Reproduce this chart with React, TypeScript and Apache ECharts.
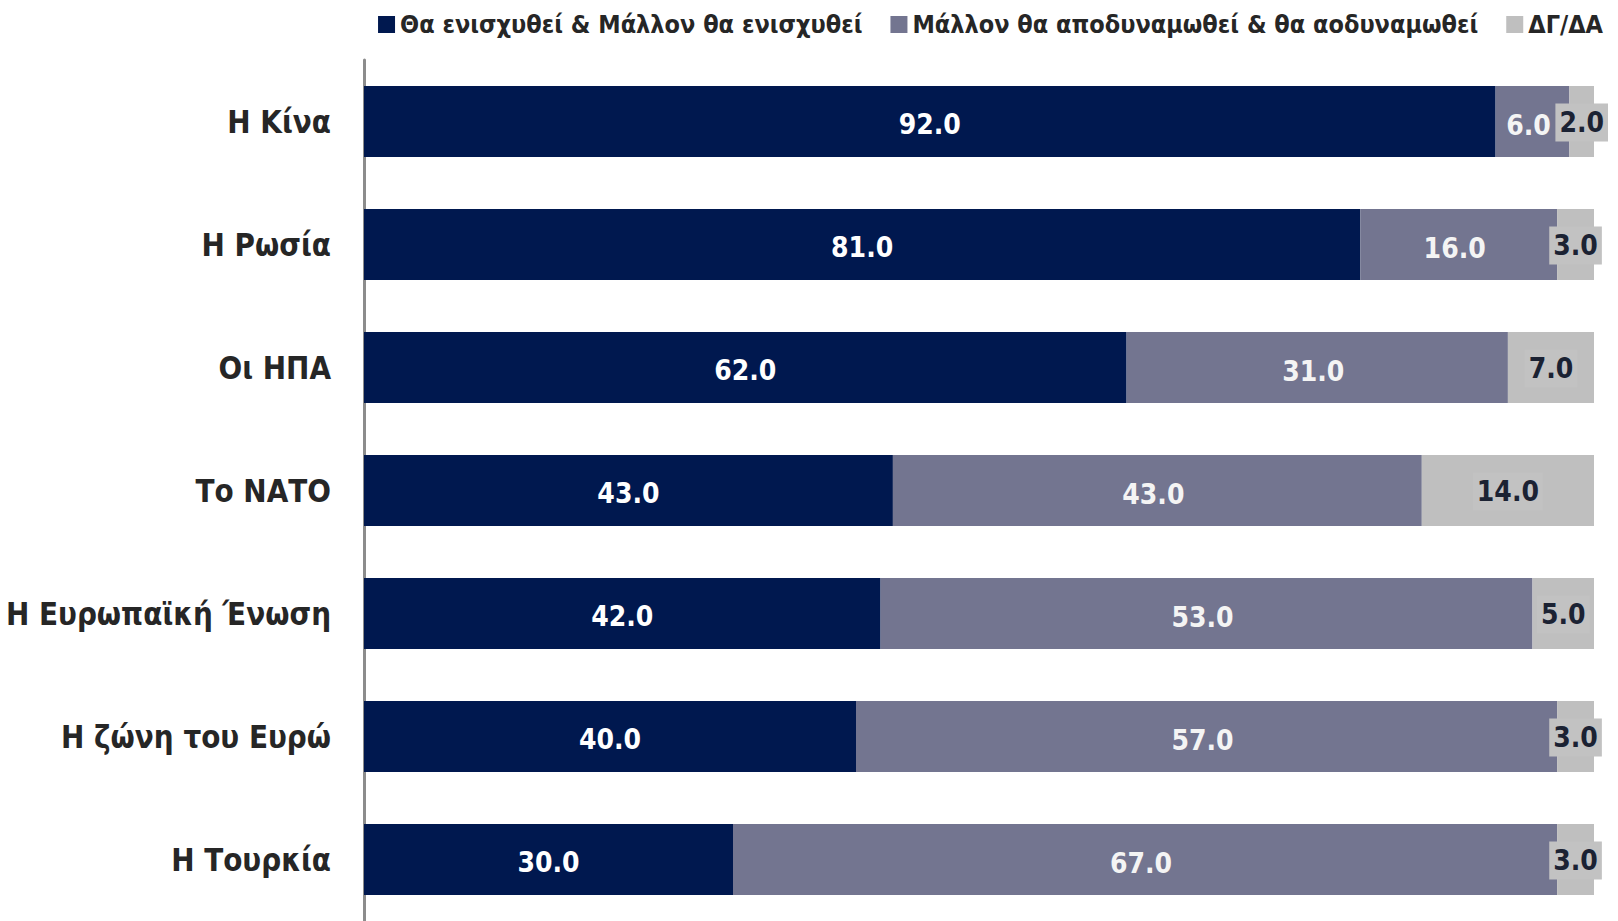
import React, { useEffect, useRef } from "react";
import * as echarts from "echarts";

const categories = [
  "Η Κίνα",
  "Η Ρωσία",
  "Οι ΗΠΑ",
  "Το ΝΑΤΟ",
  "Η Ευρωπαϊκή Ένωση",
  "Η ζώνη του Ευρώ",
  "Η Τουρκία",
];
const seriesNames = [
  "Θα ενισχυθεί & Μάλλον θα ενισχυθεί",
  "Μάλλον θα αποδυναμωθεί & θα αοδυναμωθεί",
  "ΔΓ/ΔΑ",
];
const strengthen = [92, 81, 62, 43, 42, 40, 30];
const weaken = [6, 16, 31, 43, 53, 57, 67];
const dontKnow = [2, 3, 7, 14, 5, 3, 3];

const FONT = "'Liberation Sans Narrow', 'DejaVu Sans Condensed', 'Roboto', sans-serif";

export default function App() {
  const ref = useRef<HTMLDivElement>(null);
  useEffect(() => {
    if (!ref.current) return;
    const chart = echarts.init(ref.current, null, { renderer: "svg" });
    const fmt = (p: any) => Number(p.value).toFixed(1);
    chart.setOption({
      animation: false,
      backgroundColor: "#ffffff",
      textStyle: { fontFamily: FONT },
      legend: {
        top: 7,
        right: 10,
        itemWidth: 17,
        itemHeight: 17,
        itemGap: 28,
        icon: "rect",
        textStyle: { fontFamily: FONT, fontSize: 25, fontWeight: "bold", color: "#262626" },
        data: seriesNames,
      },
      grid: { left: 364, right: 24, top: 60, bottom: -7, containLabel: false },
      xAxis: { type: "value", min: 0, max: 100, show: false },
      yAxis: {
        type: "category",
        data: categories,
        inverse: true,
        axisLine: { show: true, lineStyle: { color: "#8c8c8c", width: 3 } },
        axisTick: { show: false },
        axisLabel: {
          margin: 33,
          fontFamily: FONT,
          fontSize: 31,
          fontWeight: "bold",
          color: "#262626",
        },
      },
      series: [
        {
          name: seriesNames[0],
          type: "bar",
          stack: "total",
          barWidth: 71,
          data: strengthen,
          itemStyle: { color: "#00184f" },
          label: {
            show: true,
            position: "inside",
            formatter: fmt,
            color: "#ffffff",
            fontFamily: FONT,
            fontSize: 28,
            fontWeight: "bold",
            offset: [0, 3],
          },
        },
        {
          name: seriesNames[1],
          type: "bar",
          stack: "total",
          barWidth: 71,
          data: weaken,
          itemStyle: { color: "#737590" },
          label: {
            show: true,
            position: "inside",
            formatter: fmt,
            color: "#f4f4f4",
            fontFamily: FONT,
            fontSize: 28,
            fontWeight: "bold",
            offset: [-4, 4],
          },
        },
        {
          name: seriesNames[2],
          type: "bar",
          stack: "total",
          barWidth: 71,
          data: dontKnow,
          itemStyle: { color: "#bfbfbf" },
          label: {
            show: true,
            position: "inside",
            formatter: fmt,
            color: "#1b2233",
            fontFamily: FONT,
            fontSize: 28,
            fontWeight: "bold",
            backgroundColor: "#c2c2c2",
            padding: [6, 4, 4, 4],
            offset: [0, 1],
          },
        },
      ],
    });
    return () => chart.dispose();
  }, []);
  return (
    <div
      ref={ref}
      style={{ position: "fixed", left: 0, top: 0, width: 1618, height: 921, background: "#fff" }}
    />
  );
}
